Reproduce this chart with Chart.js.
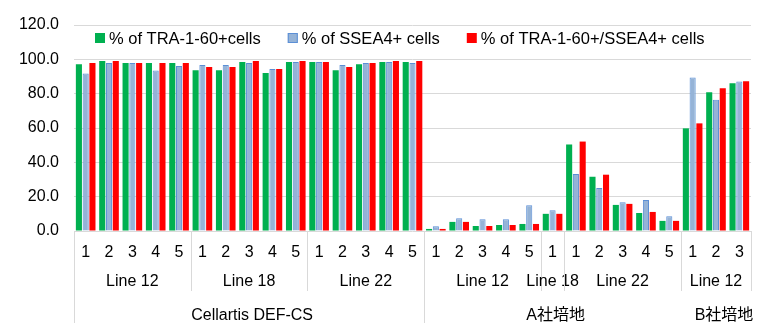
<!DOCTYPE html>
<html>
<head>
<meta charset="utf-8">
<script src="https://cdn.jsdelivr.net/npm/chart.js@4/dist/chart.umd.min.js"></script>
<style>
  html, body { margin: 0; padding: 0; background: #fff; }
  #wrap { width: 774px; height: 333px; position: relative; }
</style>
</head>
<body>
<div id="wrap"><canvas id="chart"></canvas></div>
<script>
// x軸の一番下の段: サンプル番号
var categories = [
  "1", "2", "3", "4", "5", "1", "2", "3", "4", "5", "1", "2", "3", "4", "5",
  "1", "2", "3", "4", "5", "1", "1", "2", "3", "4", "5",
  "1", "2", "3"
];

// 2段目: ライン名とその幅(カテゴリ数)
var lineLabels = ["Line 12", "Line 18", "Line 22", "Line 12", "Line 18", "Line 22", "Line 12"];
var lineSizes = [5, 5, 5, 5, 1, 5, 3];

// 3段目: 培地
var mediumLabels = ["Cellartis DEF-CS", "A\u793e\u57f9\u5730", "B\u793e\u57f9\u5730"];
var mediumSizes = [15, 11, 3];

var seriesNames = ["% of TRA-1-60+cells", "% of SSEA4+ cells", "% of TRA-1-60+/SSEA4+ cells"];

var tra160 = [
  97.2, 99.0, 97.8, 97.8, 97.8, 93.7, 93.7, 98.4, 92.0, 98.4, 98.4, 93.7, 97.2, 98.4, 98.4,
  1.2, 5.3, 2.9, 3.5, 4.1, 10.0, 50.4, 31.6, 15.2, 10.5, 5.9,
  59.8, 80.8, 86.1
];
var ssea4 = [
  91.8, 97.8, 97.8, 93.5, 96.1, 96.7, 96.7, 97.8, 94.3, 98.4, 98.4, 96.7, 97.8, 98.4, 97.8,
  2.7, 7.4, 6.8, 6.8, 15.0, 12.1, 33.2, 25.0, 16.8, 18.0, 8.6,
  89.4, 76.5, 87.1
];
var doublePos = [
  97.8, 99.0, 97.8, 97.8, 97.8, 95.5, 95.5, 99.0, 94.3, 99.0, 98.4, 95.5, 97.8, 99.0, 99.0,
  1.2, 5.3, 2.9, 3.5, 4.1, 10.0, 52.1, 32.8, 15.8, 11.1, 5.9,
  62.7, 83.2, 87.3
];

var yTicks = [0, 20, 40, 60, 80, 100, 120];

(function () {
  var FONT = '"Liberation Sans", Arial, "Noto Sans CJK JP", sans-serif';
  var GRID = "#d9d9d9";

  // 凡例をプロット領域の中に描く
  var insideLegend = {
    id: "insideLegend",
    afterDatasetsDraw: function (chart) {
      var ctx = chart.ctx;
      var x = chart.chartArea.left + 21;
      var y = chart.chartArea.top + 13;
      ctx.save();
      ctx.font = "16.5px " + FONT;
      ctx.textBaseline = "middle";
      ctx.textAlign = "left";
      chart.data.datasets.forEach(function (ds) {
        ctx.fillStyle = ds.backgroundColor;
        ctx.fillRect(x, y - 5, 10, 10);
        if (ds.borderWidth) {
          ctx.strokeStyle = ds.borderColor;
          ctx.lineWidth = 1;
          ctx.strokeRect(x + 0.5, y - 4.5, 9, 9);
        }
        ctx.fillStyle = "#000";
        ctx.fillText(ds.label, x + 14, y + 1);
        x += 14 + ctx.measureText(ds.label).width + 27;
      });
      ctx.restore();
    }
  };

  // x軸の階層ラベルと区切り線
  var groupAxis = {
    id: "groupAxis",
    afterDraw: function (chart) {
      var ctx = chart.ctx;
      var xs = chart.scales.x;
      var bottom = chart.chartArea.bottom;
      var step = xs.getPixelForTick(1) - xs.getPixelForTick(0);
      function edge(i) {
        return xs.getPixelForTick(0) - step / 2 + i * step;
      }
      ctx.save();
      ctx.strokeStyle = GRID;
      ctx.lineWidth = 1;
      ctx.fillStyle = "#000";
      ctx.font = "16px " + FONT;
      ctx.textAlign = "center";
      ctx.textBaseline = "middle";

      var i = 0;
      lineLabels.forEach(function (label, k) {
        var a = edge(i), b = edge(i + lineSizes[k]);
        ctx.beginPath();
        ctx.moveTo(Math.round(a) + 0.5, bottom);
        ctx.lineTo(Math.round(a) + 0.5, bottom + 60);
        ctx.moveTo(Math.round(b) + 0.5, bottom);
        ctx.lineTo(Math.round(b) + 0.5, bottom + 60);
        ctx.stroke();
        ctx.fillText(label, (a + b) / 2, bottom + 51);
        i += lineSizes[k];
      });

      i = 0;
      mediumLabels.forEach(function (label, k) {
        var a = edge(i), b = edge(i + mediumSizes[k]);
        if (k < mediumLabels.length - 1) {
          ctx.beginPath();
          ctx.moveTo(Math.round(a) + 0.5, bottom);
          ctx.lineTo(Math.round(a) + 0.5, bottom + 92);
          ctx.stroke();
        }
        ctx.fillText(label, (a + b) / 2 + (k === mediumLabels.length - 1 ? 8 : 3), bottom + 85);
        i += mediumSizes[k];
      });
      ctx.restore();
    }
  };

  function init() {
    var canvas = document.getElementById("chart");
    new Chart(canvas, {
      type: "bar",
      data: {
        labels: categories,
        datasets: [
          {
            label: seriesNames[0],
            data: tra160,
            backgroundColor: "#00b050",
            borderWidth: 0
          },
          {
            label: seriesNames[1],
            data: ssea4,
            backgroundColor: "#95b3d7",
            borderColor: "#5b8fd6",
            borderWidth: 1
          },
          {
            label: seriesNames[2],
            data: doublePos,
            backgroundColor: "#ff0000",
            borderWidth: 0
          }
        ]
      },
      options: {
        responsive: true,
        maintainAspectRatio: false,
        animation: false,
        categoryPercentage: 0.87,
        barPercentage: 0.9,
        layout: { padding: { top: 25, right: 23, left: 0, bottom: 0 } },
        plugins: {
          legend: { display: false },
          tooltip: { enabled: false }
        },
        scales: {
          x: {
            grid: { display: false },
            border: { display: false },
            ticks: {
              color: "#000",
              font: { family: FONT, size: 16 },
              padding: 4,
              maxRotation: 0,
              autoSkip: false
            },
            afterFit: function (s) {
              s.height = 102;
            }
          },
          y: {
            min: 0,
            max: 120,
            afterBuildTicks: function (s) {
              s.ticks = yTicks.map(function (v) {
                return { value: v };
              });
            },
            grid: { color: GRID, lineWidth: 1, drawTicks: false },
            border: { display: false },
            ticks: {
              color: "#000",
              font: { family: FONT, size: 16 },
              padding: 15,
              callback: function (v) {
                return Number(v).toFixed(1);
              }
            },
            afterFit: function (s) {
              s.width = 74;
            }
          }
        }
      },
      plugins: [insideLegend, groupAxis]
    });
  }

  document.addEventListener("DOMContentLoaded", init);
})();
</script>
</body>
</html>
